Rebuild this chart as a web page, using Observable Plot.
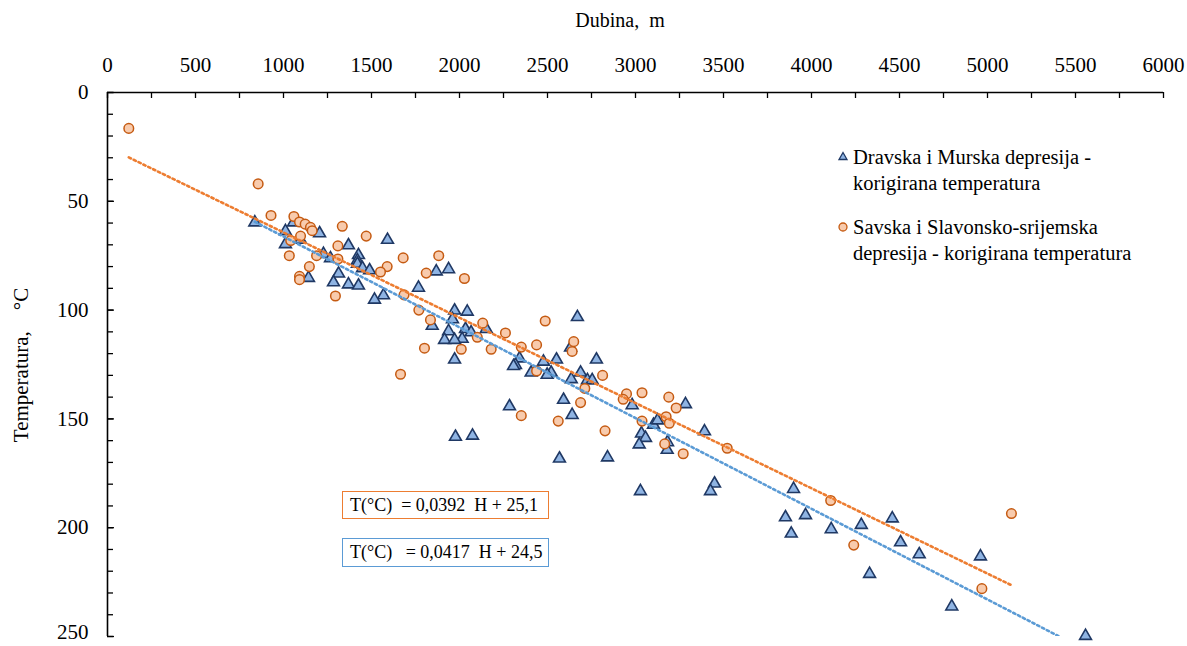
<!DOCTYPE html>
<html><head><meta charset="utf-8">
<script src="https://cdn.jsdelivr.net/npm/d3@7"></script>
<script src="https://cdn.jsdelivr.net/npm/@observablehq/plot@0.6"></script>
<style>
body{margin:0;background:#fff;}
#wrap{position:relative;width:1187px;height:646px;font-family:"Liberation Serif","Times New Roman",serif;color:#000;overflow:hidden;}
.abs{position:absolute;white-space:pre;}
</style></head><body><div id="wrap"></div>
<script>
// Axis ticks
const xTicks = [0,500,1000,1500,2000,2500,3000,3500,4000,4500,5000,5500,6000];
const yTicks = [0,50,100,150,200];
const yTickLast = [250];
const xTitle = "Dubina,  m";
const yTitle = "Temperatura,    °C";

// Series 1: Dravska i Murska depresija (triangles)
const dravName = ["Dravska i Murska depresija -", "korigirana temperatura"];
const dravDepth = [837,1011,1011,1057,1097,1205,1227,1267,1369,1426,1420,1420,1449,1489,1591,1313,1284,1142,1369,1426,1568,1517,1767,1868,1938,
  1972,2044,1960,1845,1938,2034,2066,2152,2015,1915,1972,1972,2670,2631,2778,2341,2318,2307,2477,2551,2521,2498,2407,2635,2688,2727,2754,
  2591,2284,2640,2981,3284,3034,3057,3021,3102,3125,3182,3180,2841,2568,1977,2074,3392,3028,3449,3426,3898,3852,3966,3885,4112,4283,4459,
  4506,4612,4330,4960,4797,5557];
const dravTemp = [59,63,69,59,67,64,73.5,75.5,69.5,74,76.5,78,80,81,67,82.5,86.5,84.5,87.5,88,92.5,94.5,89,81.5,80.5,
  99.5,100,103.5,106.5,109,108,109.5,108,112.5,113,113,122,102.5,116.5,122,121.5,124.5,125,123,122,128,129,128,131,128,131.5,131.5,
  140.5,143.5,147.5,143,142.5,156,158,161,152,150,160,163.5,167,167.5,157.5,157,155,182.5,179,182.5,181.5,194.5,193.5,202,200,198,195,
  206,211.5,220.5,212.5,235.5,249];

// Series 2: Savska i Slavonsko-srijemska depresija (circles)
const savName = ["Savska i Slavonsko-srijemska", "depresija - korigirana temperatura"];
const savDepth = [121,856,929,1059,1091,1123,1153,1163,1334,1470,1097,1041,1309,1188,1033,1309,1147,1589,1680,1551,1091,1091,1295,1685,
  1882,1811,2028,1769,1835,2132,2101,2261,2180,2010,1801,1665,2487,2649,2640,2438,2351,2438,2712,2813,2688,2351,2561,2827,2949,2930,
  3037,3189,3231,3037,3174,3192,3166,3271,3521,4109,4240,5136,4968];
const savTemp = [16.5,42,56.5,57,59.5,60.5,62,63.5,61.5,66,66,68,70.5,75,75,76.5,80,80,76,82.5,84.5,86,93.5,93,
  75,83,85.5,100,104.5,106,112.5,110.5,118,118,117.5,129.5,105,114.5,119,116,117,128,136,130,142.5,148.5,151,155.5,138.5,141,
  138,140,145,151,149,152,161.5,166,163.5,187.5,208,193.5,228];

// Linear trend equations (slope, intercept) as labelled on the chart
const savTrend = [0.0392, 25.1];
const dravTrend = [0.0417, 24.5];
const savEquation = "T(°C)  = 0,0392  H + 25,1";
const dravEquation = "T(°C)   = 0,0417  H + 24,5";

const drav = dravDepth.map((x, i) => ({x, t: dravTemp[i]}));
const sav = savDepth.map((x, i) => ({x, t: savTemp[i]}));
const trendLine = (xs, [a, b]) => d3.extent(xs).map(x => ({x, t: a * x + b}));

const W = 1187, H = 646, mT = 92, mL = 107, mR = 24, mB = 10;
const pw = W - mL - mR, ph = H - mT - mB;
const serif = "Liberation Serif, Times New Roman, serif";

const chart = Plot.plot({
  width: W, height: H, marginTop: mT, marginLeft: mL, marginRight: mR, marginBottom: mB,
  style: {fontFamily: serif, fontSize: "21px", color: "#000", background: "#fff", overflow: "visible"},
  x: {domain: [0, 6000]},
  y: {domain: [0, 250], reverse: true},
  marks: [
    Plot.tickX(d3.range(0, 6001, 250), {x: d => d, stroke: "#000", strokeWidth: 1.3, insetBottom: ph - 6}),
    Plot.tickY(d3.range(0, 251, 10), {y: d => d, stroke: "#000", strokeWidth: 1.3, insetRight: pw - 6}),
    Plot.tickY(d3.range(0, 251, 50), {y: d => d, stroke: "#000", strokeWidth: 1.3, insetRight: pw - 7}),
    Plot.ruleY([0], {stroke: "#000", strokeWidth: 1.6}),
    Plot.ruleX([0], {stroke: "#000", strokeWidth: 1.6}),
    Plot.axisX({anchor: "top", ticks: xTicks, tickSize: 0, tickPadding: 21, label: null, tickFormat: d3.format("d"), fontFamily: serif}),
    Plot.axisY({anchor: "left", ticks: yTicks, tickSize: 0, tickPadding: 19, label: null, tickFormat: d3.format("d"), fontFamily: serif}),
    Plot.axisY({anchor: "left", ticks: yTickLast, tickSize: 0, tickPadding: 19, label: null, tickFormat: d3.format("d"), dy: -4, fontFamily: serif}),
    Plot.dot(drav, {x: "x", y: "t", symbol: "triangle", r: 4.4, dy: 1.6, fill: "#8FB4E3", stroke: "#1F3864", strokeWidth: 1.6}),
    Plot.dot(sav, {x: "x", y: "t", r: 4.8, fill: "#F8CBAD", stroke: "#C55A11", strokeWidth: 1.5}),
    Plot.line(trendLine(savDepth, savTrend), {x: "x", y: "t", stroke: "#ED7D31", strokeWidth: 2.6, strokeDasharray: "2.4,3", clip: true}),
    Plot.line(trendLine(dravDepth, dravTrend), {x: "x", y: "t", stroke: "#5B9BD5", strokeWidth: 2.6, strokeDasharray: "2.4,3", clip: true})
  ]
});

const wrap = document.getElementById("wrap");
wrap.appendChild(chart);

function addDiv(text, css) {
  const d = document.createElement("div");
  d.className = "abs";
  d.textContent = text;
  Object.assign(d.style, css);
  wrap.appendChild(d);
  return d;
}

// Axis titles
addDiv(xTitle, {left: "520px", width: "200px", top: "8px", textAlign: "center", fontSize: "20px", lineHeight: "24px"});
addDiv(yTitle, {left: "21px", top: "365px", fontSize: "21px", lineHeight: "24px", transform: "translate(-50%,-50%) rotate(-90deg)"});

// Legend
const ns = "http://www.w3.org/2000/svg";
const lg = document.createElementNS(ns, "svg");
lg.setAttribute("width", "20"); lg.setAttribute("height", "100");
Object.assign(lg.style, {position: "absolute", left: "833px", top: "145px", overflow: "visible"});
lg.innerHTML = `<path d="M10,7.5 L14,14.5 L6,14.5 Z" fill="#8FB4E3" stroke="#1F3864" stroke-width="1.3"/>
<circle cx="10" cy="82" r="4" fill="#F8CBAD" stroke="#C55A11" stroke-width="1.3"/>`;
wrap.appendChild(lg);
addDiv(dravName.join("\n"), {left: "853px", top: "144px", fontSize: "20.5px", lineHeight: "26px"});
addDiv(savName.join("\n"), {left: "853px", top: "214px", fontSize: "20.5px", lineHeight: "26px"});

// Equation boxes
addDiv(savEquation, {left: "342px", top: "491px", width: "198px", height: "26px", lineHeight: "26px", fontSize: "18px",
  border: "1.5px solid #ED7D31", paddingLeft: "7px", boxSizing: "content-box"});
addDiv(dravEquation, {left: "342px", top: "538px", width: "198px", height: "27px", lineHeight: "27px", fontSize: "18px",
  border: "1.5px solid #5B9BD5", paddingLeft: "7px", boxSizing: "content-box"});
</script></body></html>
